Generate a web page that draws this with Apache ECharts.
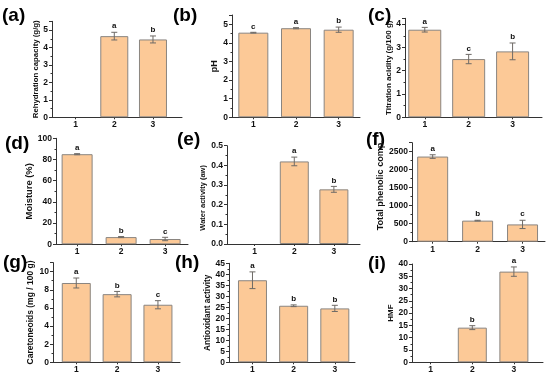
<!DOCTYPE html>
<html><head><meta charset="utf-8">
<script src="https://cdn.jsdelivr.net/npm/echarts@6/dist/echarts.min.js"></script>
<style>html,body{margin:0;padding:0;background:#fff}#c{width:550px;height:376px}</style>
</head><body><div id="c"></div>
<script>
// ---------- data ----------
const categories = [1, 2, 3];

const rehydration = [null, 4.65, 4.46];
const rehydrationErr = [null, 0.22, 0.20];
const rehydrationLetters = ['', 'a', 'b'];

const ph = [4.55, 4.79, 4.71];
const phErr = [0.02, 0.03, 0.14];
const phLetters = ['c', 'a', 'b'];

const acidity = [3.76, 2.50, 2.83];
const acidityErr = [0.10, 0.20, 0.36];
const acidityLetters = ['a', 'c', 'b'];

const moisture = [85.0, 6.8, 5.0];
const moistureErr = [0.5, 0.5, 1.6];
const moistureLetters = ['a', 'b', 'c'];

const waterActivity = [null, 0.42, 0.278];
const waterActivityErr = [null, 0.022, 0.015];
const waterActivityLetters = ['', 'a', 'b'];

const phenolic = [2365, 585, 480];
const phenolicErr = [50, 10, 115];
const phenolicLetters = ['a', 'b', 'c'];

const carotenoids = [8.75, 7.52, 6.35];
const carotenoidsErr = [0.55, 0.30, 0.45];
const carotenoidsLetters = ['a', 'b', 'c'];

const antioxidant = [37.3, 25.7, 24.5];
const antioxidantErr = [3.8, 0.4, 1.4];
const antioxidantLetters = ['a', 'b', 'b'];

const hmf = [null, 14.1, 36.9];
const hmfErr = [null, 0.8, 1.9];
const hmfLetters = ['', 'b', 'a'];

// ---------- panel definitions ----------
const panels = [
  {tag:'(a)', name:'Rehydration capacity (g/g)', v:rehydration, e:rehydrationErr, l:rehydrationLetters, yMax:5.5, yInt:1},
  {tag:'(b)', name:'pH', v:ph, e:phErr, l:phLetters, yMax:5.5, yInt:1},
  {tag:'(c)', name:'Titration acidity (g/100 g)', v:acidity, e:acidityErr, l:acidityLetters, yMax:4.25, yInt:1},
  {tag:'(d)', name:'Moisture (%)', v:moisture, e:moistureErr, l:moistureLetters, yMax:100, yInt:20},
  {tag:'(e)', name:'Water activity (aw)', v:waterActivity, e:waterActivityErr, l:waterActivityLetters, yMax:0.5, yInt:0.1, dec:1},
  {tag:'(f)', name:'Total phenolic comp.', v:phenolic, e:phenolicErr, l:phenolicLetters, yMax:2750, yInt:500},
  {tag:'(g)', name:'Caretoneoids (mg / 100 g)', v:carotenoids, e:carotenoidsErr, l:carotenoidsLetters, yMax:11, yInt:2},
  {tag:'(h)', name:'Antioxidant activity', v:antioxidant, e:antioxidantErr, l:antioxidantLetters, yMax:45, yInt:5},
  {tag:'(i)', name:'HMF', v:hmf, e:hmfErr, l:hmfLetters, yMax:40, yInt:5}
];

// ---------- layout (pixels) ----------
const layout = [
  {L:52,  T:21.3, H:96,   R:182, xMin:0.39, xMax:3.75, bw:28, nameGap:12, nameFs:7.8, shift:0,  tx:2,   ty:17},
  {L:232, T:15,   H:102.3,R:360, xMin:0.5,  xMax:3.5,  bw:30, nameGap:8,  nameFs:9,   shift:0,  tx:173, ty:17},
  {L:405, T:18.3, H:99,   R:542, xMin:0.55, xMax:3.67, bw:33, nameGap:3,  nameFs:8,   shift:0,  tx:368, ty:17},
  {L:56,  T:138.3,H:106,  R:188, xMin:0.52, xMax:3.52, bw:31, nameGap:18, nameFs:9.4, shift:0,  tx:5,   ty:145},
  {L:227, T:145.7,H:98.3, R:360, xMin:0.3,  xMax:3.66, bw:29, nameGap:11, nameFs:7.5, shift:-6, tx:177, ty:141},
  {L:412, T:142.7,H:99,   R:545, xMin:0.54, xMax:3.5,  bw:31, nameGap:25, nameFs:9.1, shift:14, tx:366, ty:141},
  {L:53,  T:262.6,H:99.7, R:180, xMin:0.43, xMax:3.54, bw:29, nameGap:12, nameFs:8.5, shift:0,  tx:3,   ty:264},
  {L:229, T:263.3,H:99,   R:355, xMin:0.43, xMax:3.49, bw:29, nameGap:13, nameFs:8.3, shift:0,  tx:175, ty:264},
  {L:412, T:264,  H:98.3, R:543, xMin:0.55, xMax:3.7,  bw:29, nameGap:15, nameFs:8,   shift:0,  tx:368, ty:265}
];

const FONT = "'Liberation Sans', Arial, sans-serif";
const AX = '#333';
const grid = [], xAxis = [], yAxis = [], series = [], graphic = [];

panels.forEach((p, i) => {
  const g = layout[i];
  grid.push({left:g.L, top:g.T, width:g.R - g.L, height:g.H, outerBoundsMode:'none', containLabel:false});
  xAxis.push({
    type:'value', gridIndex:i, min:g.xMin, max:g.xMax,
    splitLine:{show:false},
    axisLine:{show:true, onZero:false, lineStyle:{color:AX, width:1}},
    axisTick:{show:true, customValues:categories, length:2, lineStyle:{color:AX}},
    axisLabel:{customValues:categories, margin:3, fontSize:8.5, fontWeight:'bold', color:'#111', fontFamily:FONT}
  });
  const notOnTick = Math.abs(p.yMax / p.yInt - Math.round(p.yMax / p.yInt)) > 1e-6;
  const pad = g.shift > 0 ? [0, 0, 0, g.shift] : (g.shift < 0 ? [0, -g.shift, 0, 0] : 0);
  yAxis.push({
    type:'value', gridIndex:i, min:0, max:p.yMax, interval:p.yInt,
    name:p.name, nameLocation:'middle', nameGap:g.nameGap,
    nameTextStyle:{fontSize:g.nameFs, fontWeight:'bold', color:'#111', fontFamily:FONT, padding:pad},
    splitLine:{show:false},
    axisLine:{show:true, lineStyle:{color:AX, width:1}},
    axisTick:{show:true, length:3, lineStyle:{color:AX}},
    minorTick:{show:true, splitNumber:2, length:1.5, lineStyle:{color:AX}},
    axisLabel:{margin:4, fontSize:8.5, fontWeight:'bold', color:'#111', fontFamily:FONT,
      showMaxLabel: notOnTick ? false : null,
      formatter: v => p.dec ? v.toFixed(p.dec) : String(v)}
  });
  const barData = [], errData = [];
  categories.forEach((c, k) => {
    if (p.v[k] != null) {
      barData.push([c, p.v[k]]);
      errData.push([c, p.v[k], p.e[k], p.l[k]]);
    }
  });
  series.push({
    type:'bar', xAxisIndex:i, yAxisIndex:i, data:barData, barWidth:g.bw,
    itemStyle:{color:'#FCC997', borderColor:'#8a8580', borderWidth:1},
    silent:true
  });
  series.push({
    type:'custom', xAxisIndex:i, yAxisIndex:i, data:errData, silent:true, z:5,
    renderItem:(params, api) => {
      const x = api.value(0), y = api.value(1), e = api.value(2);
      const letter = errData[params.dataIndex][3];
      const t = api.coord([x, y + e]), b = api.coord([x, y - e]);
      const cw = 3;
      const st = {stroke:'#6e6a66', lineWidth:1};
      return {type:'group', children:[
        {type:'line', shape:{x1:t[0], y1:t[1], x2:b[0], y2:b[1]}, style:st},
        {type:'line', shape:{x1:t[0]-cw, y1:t[1], x2:t[0]+cw, y2:t[1]}, style:st},
        {type:'line', shape:{x1:b[0]-cw, y1:b[1], x2:b[0]+cw, y2:b[1]}, style:st},
        {type:'text', style:{text:letter, x:t[0], y:t[1]-2, align:'center', verticalAlign:'bottom',
          font:"bold 8px " + FONT, fill:'#111'}}
      ]};
    }
  });
  graphic.push({type:'text', left:g.tx, top:g.ty - 11, style:{text:p.tag, font:"bold 19px " + FONT, fill:'#000'}});
});

const chart = echarts.init(document.getElementById('c'), null, {renderer:'canvas'});
chart.setOption({animation:false, backgroundColor:'#fff', grid, xAxis, yAxis, series, graphic});
</script>
</body></html>
